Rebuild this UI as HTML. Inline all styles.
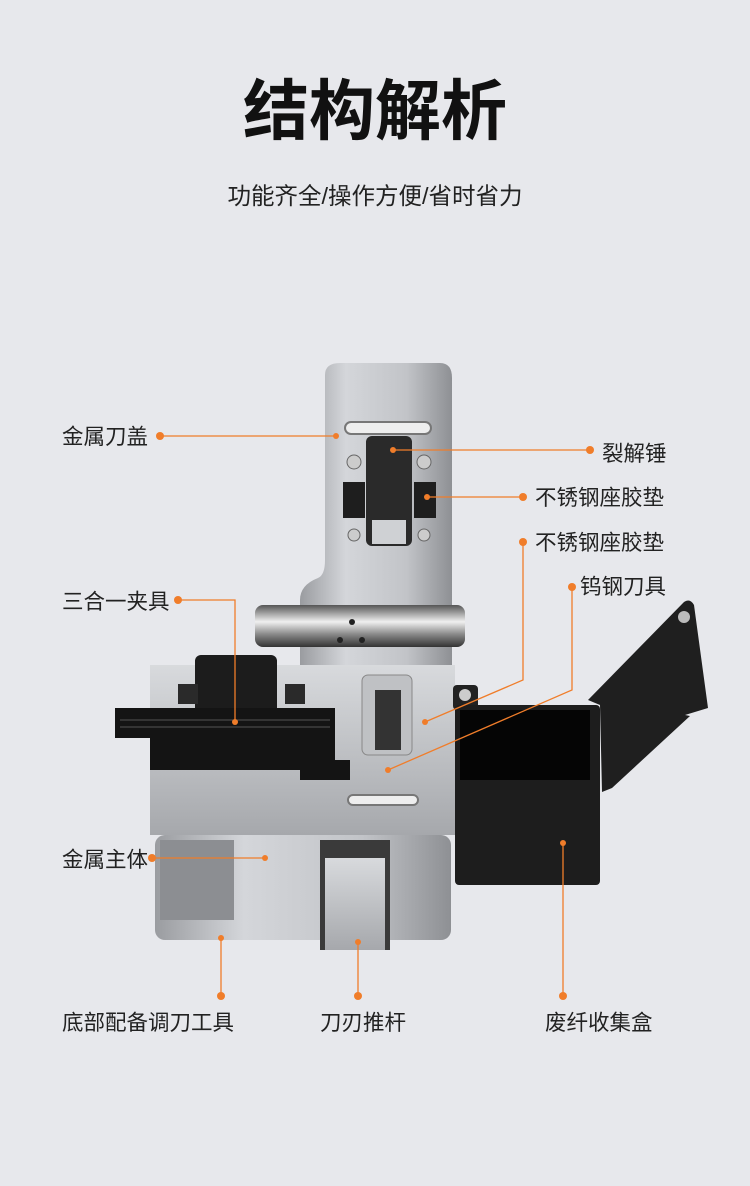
<!DOCTYPE html>
<html><head><meta charset="utf-8"><style>
html,body{margin:0;padding:0}
body{width:750px;height:1181px;background:#e7e8ec;overflow:hidden;font-family:"Liberation Sans","Noto Sans CJK SC",sans-serif}
</style></head><body>
<svg width="750" height="1181" viewBox="0 0 750 1181" xmlns="http://www.w3.org/2000/svg">
<defs>
<linearGradient id="met" x1="0" x2="1"><stop offset="0" stop-color="#9a9ca0"/><stop offset="0.3" stop-color="#d4d6da"/><stop offset="0.7" stop-color="#c2c4c8"/><stop offset="1" stop-color="#8e9094"/></linearGradient>
<linearGradient id="met2" x1="0" y1="0" x2="0" y2="1"><stop offset="0" stop-color="#d8dadd"/><stop offset="1" stop-color="#a6a8ac"/></linearGradient>
<linearGradient id="cyl" x1="0" y1="0" x2="0" y2="1"><stop offset="0" stop-color="#555"/><stop offset="0.4" stop-color="#f0f0f0"/><stop offset="0.7" stop-color="#888"/><stop offset="1" stop-color="#333"/></linearGradient>
</defs>
<rect width="750" height="1181" fill="#e7e8ec"/>
<text x="375" y="134" text-anchor="middle" font-size="66" font-weight="bold" fill="#111" font-family="Liberation Sans,Noto Sans CJK SC,sans-serif">结构解析</text>
<text x="375" y="204" text-anchor="middle" font-size="23.5" fill="#222" font-family="Liberation Sans,Noto Sans CJK SC,sans-serif">功能齐全/操作方便/省时省力</text>

<path d="M325,375 Q325,363 340,363 L440,363 Q452,363 452,378 L452,665 L300,665 L300,600 Q300,585 318,578 Q325,575 325,560 Z" fill="url(#met)"/>
<rect x="345" y="422" width="86" height="12" rx="6" fill="#eee" stroke="#777" stroke-width="2"/>
<rect x="366" y="436" width="46" height="110" rx="6" fill="#2a2a2a"/>
<rect x="372" y="520" width="34" height="24" fill="#cfd1d4"/>
<rect x="343" y="482" width="22" height="36" fill="#1e1e1e"/>
<rect x="414" y="482" width="22" height="36" fill="#1e1e1e"/>
<circle cx="354" cy="462" r="7" fill="#ccc" stroke="#666"/><circle cx="424" cy="462" r="7" fill="#ccc" stroke="#666"/>
<circle cx="354" cy="535" r="6" fill="#ccc" stroke="#666"/><circle cx="424" cy="535" r="6" fill="#ccc" stroke="#666"/>
<rect x="255" y="605" width="210" height="42" rx="8" fill="url(#cyl)"/>
<circle cx="340" cy="640" r="3" fill="#222"/><circle cx="362" cy="640" r="3" fill="#222"/><circle cx="352" cy="622" r="3" fill="#222"/>
<path d="M150,780 L150,665 L455,665 L455,835 L150,835 Z" fill="url(#met2)"/>
<rect x="362" y="675" width="50" height="80" rx="6" fill="#bfc1c4" stroke="#888"/>
<rect x="375" y="690" width="26" height="60" fill="#333"/>
<rect x="348" y="795" width="70" height="10" rx="5" fill="#eee" stroke="#777" stroke-width="2"/>
<rect x="155" y="835" width="296" height="105" rx="10" fill="url(#met)"/>
<rect x="160" y="840" width="74" height="80" fill="#8c8e92"/>
<rect x="320" y="840" width="70" height="110" fill="#3a3a3a"/>
<rect x="325" y="858" width="60" height="92" fill="url(#met2)"/>
<rect x="195" y="655" width="82" height="70" rx="6" fill="#1c1c1c"/>
<rect x="178" y="684" width="20" height="20" fill="#2a2a2a"/>
<rect x="285" y="684" width="20" height="20" fill="#2a2a2a"/>
<path d="M115,708 L335,708 L335,760 L350,760 L350,780 L300,780 L300,770 L150,770 L150,738 L115,738 Z" fill="#141414"/>
<line x1="120" y1="720" x2="330" y2="720" stroke="#555" stroke-width="1"/>
<line x1="120" y1="727" x2="330" y2="727" stroke="#555" stroke-width="1"/>
<rect x="453" y="685" width="25" height="25" rx="4" fill="#222"/>
<circle cx="465" cy="695" r="6" fill="#ccc"/>
<rect x="455" y="705" width="145" height="180" rx="4" fill="#1d1d1d"/>
<rect x="460" y="710" width="130" height="70" fill="#050505"/>
<path d="M600,705 L602,792 L612,788 L690,716 L685,715 L708,708 L694,605 Q690,598 684,602 L588,700 Z" fill="#1f1f1f"/>
<circle cx="684" cy="617" r="6" fill="#bbb"/>

<g stroke="#f07d2a" stroke-width="1.3" fill="none">
<line x1="160" y1="436" x2="336" y2="436"/>
<line x1="590" y1="450" x2="393" y2="450"/>
<line x1="523" y1="497" x2="427" y2="497"/>
<polyline points="523,542 523,680 425,722"/>
<polyline points="572,587 572,690 388,770"/>
<polyline points="178,600 235,600 235,722"/>
<line x1="152" y1="858" x2="265" y2="858"/>
<line x1="221" y1="996" x2="221" y2="938"/>
<line x1="358" y1="942" x2="358" y2="996"/>
<line x1="563" y1="996" x2="563" y2="843"/>
</g>
<g fill="#f07d2a">
<circle cx="160" cy="436" r="4"/><circle cx="336" cy="436" r="3"/>
<circle cx="590" cy="450" r="4"/><circle cx="393" cy="450" r="3"/>
<circle cx="523" cy="497" r="4"/><circle cx="427" cy="497" r="3"/>
<circle cx="523" cy="542" r="4"/><circle cx="425" cy="722" r="3"/>
<circle cx="572" cy="587" r="4"/><circle cx="388" cy="770" r="3"/>
<circle cx="178" cy="600" r="4"/><circle cx="235" cy="722" r="3"/>
<circle cx="152" cy="858" r="4"/><circle cx="265" cy="858" r="3"/>
<circle cx="221" cy="996" r="4"/><circle cx="221" cy="938" r="3"/>
<circle cx="358" cy="996" r="4"/><circle cx="358" cy="942" r="3"/>
<circle cx="563" cy="996" r="4"/><circle cx="563" cy="843" r="3"/>
</g>
<g font-size="21.5" fill="#222" font-family="Liberation Sans,Noto Sans CJK SC,sans-serif">
<text x="62" y="444">金属刀盖</text>
<text x="602" y="461">裂解锤</text>
<text x="535" y="505">不锈钢座胶垫</text>
<text x="535" y="550">不锈钢座胶垫</text>
<text x="580" y="594">钨钢刀具</text>
<text x="62" y="609">三合一夹具</text>
<text x="62" y="867">金属主体</text>
<text x="62" y="1030">底部配备调刀工具</text>
<text x="320" y="1030">刀刃推杆</text>
<text x="545" y="1030">废纤收集盒</text>
</g>
</svg>
</body></html>
